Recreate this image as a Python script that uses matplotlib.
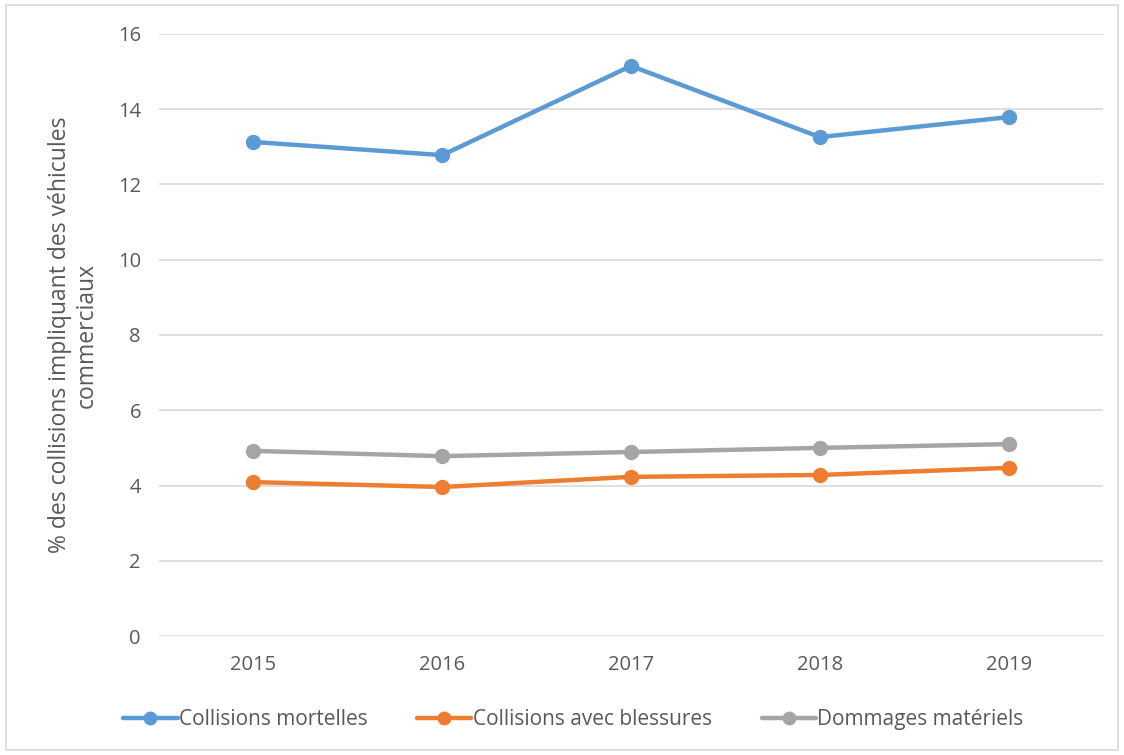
import matplotlib.pyplot as plt
from matplotlib.patches import Rectangle

# Données
annees = ['2015', '2016', '2017', '2018', '2019']
mortelles = [13.13, 12.78, 15.15, 13.26, 13.79]
blessures = [4.09, 3.96, 4.23, 4.28, 4.47]
materiels = [4.92, 4.78, 4.89, 5.00, 5.10]

series = [
    ('Collisions mortelles', mortelles, '#5b9bd5'),
    ('Collisions avec blessures', blessures, '#ed7d31'),
    ('Dommages matériels', materiels, '#a5a5a5'),
]

plt.rcParams['font.family'] = ['Open Sans', 'DejaVu Sans']
texte = '#595959'

fig = plt.figure(figsize=(11.24, 7.55), dpi=100)
ax = fig.add_axes([0.1415, 0.1576, 0.8398, 0.7974])

x = range(len(annees))
for nom, valeurs, couleur in series:
    ax.plot(x, valeurs, color=couleur, linewidth=3.2, marker='o',
            markersize=10, label=nom, solid_capstyle='round')

ax.set_xlim(-0.5, len(annees) - 0.5)
ax.set_ylim(0, 16)
ax.set_yticks(range(0, 17, 2))
ax.set_xticks(list(x))
ax.set_xticklabels(annees)
ax.grid(axis='y', color='#d9d9d9', linewidth=1.2)
ax.set_axisbelow(True)
for s in ax.spines.values():
    s.set_visible(False)
ax.tick_params(length=0, labelsize=14.5, colors=texte)
ax.tick_params(axis='x', pad=14)
ax.tick_params(axis='y', pad=13)

ax.set_ylabel('% des collisions impliquant des véhicules\ncommerciaux',
              fontsize=16.5, color=texte, labelpad=14, linespacing=1.15)

# légende centrée sur la figure, sous l'axe
ax.legend(loc='center', bbox_to_anchor=(0.51, 0.047), bbox_transform=fig.transFigure,
          ncol=3, frameon=False, fontsize=15, labelcolor=texte, handlelength=2.6,
          handletextpad=0.05, columnspacing=2.4, markerscale=0.9)

# cadre du graphique
fig.patches.append(Rectangle((0.005, 0.006), 0.99, 0.988, transform=fig.transFigure,
                             fill=False, edgecolor='#d9d9d9', linewidth=1.2))

fig.savefig('out.png', dpi=100)
